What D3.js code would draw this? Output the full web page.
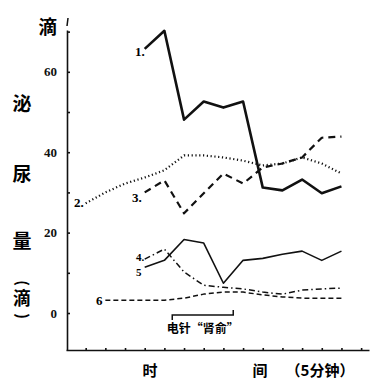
<!DOCTYPE html>
<html>
<head>
<meta charset="utf-8">
<script src="https://cdn.jsdelivr.net/npm/d3@7"></script>
<style>
  body { margin: 0; background: #fff; }
  svg { display: block; }
  .num { font-family: "Liberation Serif", "DejaVu Serif", serif; font-weight: bold; }
  .cjk { font-family: "Noto Sans CJK SC", sans-serif; font-weight: bold; }
</style>
</head>
<body>
<div id="chart"></div>
<script>
// time index (5 min steps) and drop counts
let times = d3.range(0, 16);
let yTicks = [0, 10, 20, 30, 40, 50, 60, 70];
let yTickLabels = [0, 20, 40, 60];

let series1 = [[4, 65.7], [5, 70.2], [6, 48.1], [7, 52.6], [8, 51.1], [9, 52.6], [10, 31.2], [11, 30.5], [12, 33.2], [13, 29.8], [14, 31.5]];
let series2 = [[1, 27.3], [2, 30.0], [3, 32.2], [4, 33.7], [5, 35.5], [6, 39.2], [7, 39.2], [8, 38.7], [9, 37.9], [10, 36.7], [11, 37.2], [12, 38.7], [13, 37.2], [14, 34.7]];
let series3 = [[4, 30.0], [5, 33.0], [6, 24.8], [7, 29.8], [8, 34.7], [9, 32.2], [10, 36.2], [11, 37.2], [12, 38.7], [13, 43.6], [14, 43.9]];
let series4 = [[4, 13.4], [5, 15.9], [6, 10.2], [7, 6.9], [8, 6.4], [9, 6.0], [10, 5.2], [11, 4.7], [12, 5.7], [13, 6.0], [14, 6.2]];
let series5 = [[4, 11.4], [5, 13.1], [6, 18.3], [7, 17.4], [8, 7.4], [9, 13.1], [10, 13.6], [11, 14.6], [12, 15.4], [13, 13.1], [14, 15.4]];
let series6 = [[2, 3.2], [3, 3.2], [4, 3.2], [5, 3.2], [6, 3.7], [7, 4.7], [8, 5.2], [9, 5.2], [10, 4.5], [11, 4.0], [12, 3.7], [13, 3.7], [14, 3.7]];

let seriesNames = ["1.", "2.", "3.", "4.", "5", "6"];
let stimulusRange = [5.4, 8.5]; // 电针"肾俞" period

let width = 375, height = 383;

let svg = d3.select("#chart").append("svg")
    .attr("width", width)
    .attr("height", height);

// scales
let x = d3.scaleLinear().domain([0, 15.4]).range([66, 369]);
let y = d3.scaleLinear().domain([-9.2, 70.4]).range([350, 30]);

// y axis: ticks to the right, labels to the left
svg.append("g")
    .attr("transform", "translate(67,0)")
    .call(d3.axisRight(y).tickValues(yTicks).tickSize(3).tickSizeOuter(0).tickFormat(""))
    .call(g => g.selectAll("path, line").attr("stroke", "#111").attr("stroke-width", 1.6));

svg.append("g")
    .attr("transform", "translate(67,0)")
    .call(d3.axisLeft(y).tickValues(yTickLabels).tickSize(0).tickPadding(10))
    .call(g => g.select(".domain").remove())
    .call(g => g.selectAll("text").attr("class", "num").attr("font-size", 13).attr("fill", "#111"));

// x axis
svg.append("g")
    .attr("transform", "translate(0,350)")
    .call(d3.axisTop(x).tickValues(times.slice(1)).tickSize(2).tickSizeOuter(0).tickFormat(""))
    .call(g => g.selectAll("path, line").attr("stroke", "#111").attr("stroke-width", 1.6));

// small mark at top of y axis
svg.append("line")
    .attr("x1", 68).attr("y1", 18).attr("x2", 67).attr("y2", 26)
    .attr("stroke", "#111").attr("stroke-width", 1.5);

// lines
let line = d3.line().x(d => x(d[0])).y(d => y(d[1]));

let styles = [
    {data: series1, w: 2.6, dash: null},
    {data: series2, w: 2.2, dash: "1.2,2.6"},
    {data: series3, w: 2.2, dash: "7,5"},
    {data: series4, w: 1.5, dash: "6,3,1.5,3"},
    {data: series5, w: 1.6, dash: null},
    {data: series6, w: 1.5, dash: "5,3"}
];

svg.append("g").selectAll("path")
    .data(styles)
    .enter().append("path")
    .attr("d", d => line(d.data))
    .attr("fill", "none")
    .attr("stroke", "#111")
    .attr("stroke-width", d => d.w)
    .attr("stroke-linejoin", "round")
    .attr("stroke-dasharray", d => d.dash);

// series labels
let labelPos = [[135, 56], [74, 207], [132, 202], [136, 261], [136, 276], [96, 305]];
let labelSize = [13, 13, 13, 11, 11, 13];
svg.append("g").selectAll("text")
    .data(seriesNames)
    .enter().append("text")
    .attr("class", "num")
    .attr("font-size", (d, i) => labelSize[i])
    .attr("x", (d, i) => labelPos[i][0])
    .attr("y", (d, i) => labelPos[i][1])
    .text(d => d);

// stimulus bracket
let by = 315;
svg.append("path")
    .attr("d", `M${x(stimulusRange[0])},${by + 5}V${by}H${x(stimulusRange[1])}V${by - 5}`)
    .attr("fill", "none")
    .attr("stroke", "#111")
    .attr("stroke-width", 1.5);

svg.append("text")
    .attr("class", "cjk")
    .attr("font-size", 12)
    .attr("text-anchor", "middle")
    .attr("x", (x(stimulusRange[0]) + x(stimulusRange[1])) / 2)
    .attr("y", by + 18)
    .text("电针“肾俞”");

// y axis title (vertical)
svg.append("text").attr("class", "cjk").attr("font-size", 19)
    .attr("x", 48).attr("y", 34).attr("text-anchor", "middle").text("滴");

let yTitle = [["泌", 111], ["尿", 181], ["量", 248]];
svg.append("g").selectAll("text")
    .data(yTitle)
    .enter().append("text")
    .attr("class", "cjk")
    .attr("font-size", 19)
    .attr("text-anchor", "middle")
    .attr("x", 22)
    .attr("y", d => d[1])
    .text(d => d[0]);

svg.append("text").attr("class", "cjk").attr("font-size", 15)
    .attr("transform", "translate(22,283) rotate(90)")
    .attr("text-anchor", "middle").attr("dy", "0.35em").text("(");
svg.append("text").attr("class", "cjk").attr("font-size", 18)
    .attr("x", 22).attr("y", 305).attr("text-anchor", "middle").text("滴");
svg.append("text").attr("class", "cjk").attr("font-size", 15)
    .attr("transform", "translate(22,316) rotate(90)")
    .attr("text-anchor", "middle").attr("dy", "0.35em").text(")");

// x axis title
svg.append("text").attr("class", "cjk").attr("font-size", 15)
    .attr("x", 150).attr("y", 376).attr("text-anchor", "middle").text("时");
svg.append("text").attr("class", "cjk").attr("font-size", 15)
    .attr("x", 260).attr("y", 376).attr("text-anchor", "middle").text("间");
svg.append("text").attr("class", "cjk").attr("font-size", 15)
    .attr("x", 320).attr("y", 376).attr("text-anchor", "middle").text("（5分钟）");
</script>
</body>
</html>
